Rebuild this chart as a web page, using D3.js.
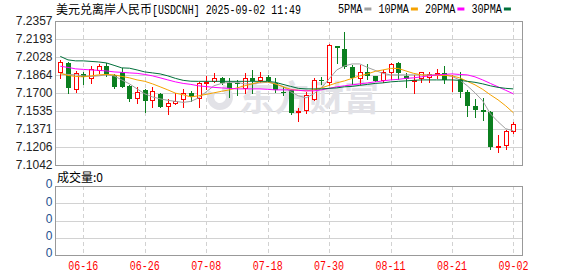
<!DOCTYPE html>
<html lang="zh">
<head>
<meta charset="UTF-8">
<title>USDCNH</title>
<script src="https://cdn.jsdelivr.net/npm/d3@7.8.5/dist/d3.min.js"></script>
<style>
    body { margin: 0; background: #fff; }
    svg text { font-family: 'Liberation Sans', Arial, sans-serif; }
</style>
</head>
<body>
<div id="chart"></div>
<script>
    // trading days shown (06-11 .. 09-02)
    const dates = [
        '06-11','06-12','06-13','06-16','06-17','06-18','06-19','06-20','06-23','06-24',
        '06-25','06-26','06-27','06-30','07-01','07-02','07-03','07-04','07-07','07-08',
        '07-09','07-10','07-11','07-14','07-15','07-16','07-17','07-18','07-21','07-22',
        '07-23','07-24','07-25','07-28','07-29','07-30','07-31','08-01','08-04','08-05',
        '08-06','08-07','08-08','08-11','08-12','08-13','08-14','08-15','08-18','08-19',
        '08-20','08-21','08-22','08-25','08-26','08-27','08-28','08-29','09-01','09-02'
    ];
    const openVals = [
        7.1895,7.1974,7.1735,7.1871,7.1840,7.1908,7.1950,7.1865,7.1890,7.1767,
        7.1653,7.1728,7.1634,7.1689,7.1580,7.1610,7.1643,7.1698,7.1653,7.1795,
        7.1813,7.1840,7.1789,7.1792,7.1744,7.1835,7.1817,7.1847,7.1789,7.1713,
        7.1724,7.1530,7.1541,7.1643,7.1821,7.1801,7.2129,7.2099,7.1940,7.1838,
        7.1890,7.1856,7.1815,7.1895,7.1970,7.1859,7.1810,7.1835,7.1849,7.1871,
        7.1880,7.1835,7.1828,7.1713,7.1582,7.1546,7.1525,7.1202,7.1221,7.1355
    ];
    const highVals = [
        7.2002,7.1986,7.1901,7.1895,7.1947,7.1968,7.1972,7.1871,7.1926,7.1774,
        7.1753,7.1735,7.1755,7.1704,7.1646,7.1698,7.1735,7.1719,7.1801,7.1856,
        7.1880,7.1844,7.1835,7.1819,7.1880,7.1910,7.1895,7.1865,7.1840,7.1758,
        7.1728,7.1561,7.1713,7.1835,7.1849,7.2147,7.2129,7.2252,7.1951,7.1956,
        7.1961,7.1856,7.1910,7.1977,7.1986,7.1880,7.1865,7.1895,7.1895,7.1920,
        7.1947,7.1865,7.1895,7.1728,7.1646,7.1653,7.1537,7.1318,7.1361,7.1434
    ];
    const lowVals = [
        7.1835,7.1704,7.1713,7.1786,7.1795,7.1880,7.1859,7.1749,7.1755,7.1625,
        7.1607,7.1530,7.1573,7.1571,7.1507,7.1601,7.1576,7.1622,7.1576,7.1737,
        7.1798,7.1780,7.1667,7.1683,7.1698,7.1698,7.1804,7.1798,7.1713,7.1683,
        7.1509,7.1448,7.1514,7.1637,7.1778,7.1769,7.1972,7.1926,7.1783,7.1778,
        7.1828,7.1806,7.1798,7.1826,7.1828,7.1758,7.1698,7.1798,7.1798,7.1835,
        7.1789,7.1722,7.1667,7.1494,7.1476,7.1455,7.1191,7.1160,7.1191,7.1334
    ];
    const closeVals = [
        7.1981,7.1744,7.1886,7.1844,7.1917,7.1944,7.1871,7.1758,7.1758,7.1649,
        7.1713,7.1628,7.1722,7.1576,7.1607,7.1622,7.1695,7.1660,7.1789,7.1799,
        7.1840,7.1789,7.1749,7.1778,7.1835,7.1810,7.1844,7.1810,7.1728,7.1698,
        7.1516,7.1539,7.1683,7.1819,7.1817,7.2134,7.2108,7.1935,7.1838,7.1890,
        7.1854,7.1813,7.1890,7.1965,7.1883,7.1828,7.1819,7.1890,7.1874,7.1880,
        7.1819,7.1840,7.1713,7.1585,7.1540,7.1530,7.1202,7.1212,7.1355,7.1416
    ];
    const ma5 = [
        7.1874,7.1869,7.1865,7.1856,7.1851,7.1856,7.1865,7.1856,7.1819,7.1783,
        7.1737,7.1692,7.1664,7.1646,7.1633,7.1623,7.1614,7.1623,7.1655,7.1710,
        7.1765,7.1787,7.1797,7.1797,7.1783,7.1783,7.1792,7.1797,7.1783,7.1760,
        7.1710,7.1674,7.1655,7.1692,7.1746,7.1828,7.1910,7.1947,7.1965,7.1965,
        7.1933,7.1906,7.1879,7.1865,7.1865,7.1865,7.1865,7.1865,7.1865,7.1865,
        7.1865,7.1851,7.1819,7.1765,7.1701,7.1628,7.1510,7.1437,7.1373,7.1355
    ];
    const ma10 = [
        7.1879,7.1860,7.1851,7.1847,7.1856,7.1865,7.1869,7.1865,7.1851,7.1838,
        7.1819,7.1806,7.1783,7.1756,7.1728,7.1698,7.1683,7.1664,7.1674,7.1687,
        7.1701,7.1715,7.1728,7.1746,7.1765,7.1783,7.1801,7.1801,7.1783,7.1756,
        7.1733,7.1724,7.1719,7.1728,7.1746,7.1769,7.1792,7.1810,7.1833,7.1856,
        7.1874,7.1897,7.1910,7.1924,7.1924,7.1901,7.1879,7.1865,7.1860,7.1860,
        7.1860,7.1856,7.1838,7.1806,7.1774,7.1733,7.1683,7.1637,7.1582,7.1519
    ];
    const ma20 = [
        7.1944,7.1933,7.1920,7.1915,7.1910,7.1906,7.1901,7.1892,7.1888,7.1883,
        7.1879,7.1869,7.1856,7.1838,7.1819,7.1801,7.1787,7.1778,7.1765,7.1758,
        7.1751,7.1746,7.1742,7.1737,7.1737,7.1737,7.1737,7.1733,7.1728,7.1728,
        7.1728,7.1724,7.1719,7.1719,7.1728,7.1742,7.1756,7.1765,7.1774,7.1783,
        7.1792,7.1801,7.1810,7.1819,7.1824,7.1833,7.1838,7.1847,7.1856,7.1865,
        7.1869,7.1874,7.1869,7.1865,7.1847,7.1819,7.1787,7.1756,7.1724,7.1692
    ];
    const ma30 = [
        7.2034,7.2002,7.1993,7.1993,7.1988,7.1983,7.1974,7.1952,7.1929,7.1926,
        7.1910,7.1892,7.1883,7.1874,7.1856,7.1833,7.1815,7.1807,7.1806,7.1806,
        7.1806,7.1806,7.1806,7.1806,7.1806,7.1806,7.1806,7.1806,7.1797,7.1778,
        7.1760,7.1742,7.1737,7.1737,7.1737,7.1742,7.1746,7.1756,7.1760,7.1769,
        7.1778,7.1787,7.1792,7.1801,7.1806,7.1810,7.1815,7.1819,7.1819,7.1819,
        7.1819,7.1819,7.1815,7.1806,7.1797,7.1783,7.1765,7.1751,7.1742,7.1737
    ];
    const priceTicks = ['7.2357','7.2193','7.2028','7.1864','7.1700','7.1535','7.1371','7.1206','7.1042'];
    const volTicks = ['0','0','0','0','0'];
    const dateTicks = ['06-16','06-26','07-08','07-18','07-30','08-11','08-21','09-02'];
    const maNames = ['5PMA','10PMA','20PMA','30PMA'];

    const width = 578, height = 276;
    const plot = {left: 55, right: 522, top: 21, bottom: 165};
    const vol = {top: 186, bottom: 255};
    const upColor = '#ff0000', downColor = '#0b7f1f';
    const maColors = ['#a0a0a0', '#f5a200', '#ff00ff', '#00703a'];
    const gridColor = '#d2d2d2', borderColor = '#999';

    const svg = d3.select('#chart').append('svg')
        .attr('width', width).attr('height', height);

    const x = d3.scalePoint().domain(dates).range([60.3, 513.4]);
    const y = d3.scaleLinear()
        .domain([+priceTicks[priceTicks.length - 1], +priceTicks[0]])
        .range([plot.bottom, plot.top]);
    const yVol = d3.scaleLinear().domain([0, volTicks.length - 1]).range([vol.bottom, vol.top]);

    //grid - horizontal
    const grid = svg.append('g').attr('shape-rendering', 'crispEdges');
    grid.selectAll('line.hp').data(priceTicks.slice(1, -1)).join('line')
        .attr('x1', plot.left).attr('x2', plot.right)
        .attr('y1', d => Math.round(y(+d)) + 0.5).attr('y2', d => Math.round(y(+d)) + 0.5)
        .attr('stroke', gridColor);
    grid.selectAll('line.hv').data(d3.range(1, volTicks.length - 1)).join('line')
        .attr('x1', plot.left).attr('x2', plot.right)
        .attr('y1', d => Math.round(yVol(d)) + 0.5).attr('y2', d => Math.round(yVol(d)) + 0.5)
        .attr('stroke', gridColor);
    //grid - vertical dashed, one set per panel
    [[plot.top, plot.bottom], [vol.top, vol.bottom]].forEach(([t, b]) => {
        grid.append('g').selectAll('line').data(dateTicks).join('line')
            .attr('x1', d => Math.round(x(d)) + 0.5).attr('x2', d => Math.round(x(d)) + 0.5)
            .attr('y1', t).attr('y2', b)
            .attr('stroke', gridColor).attr('stroke-dasharray', '4,3');
    });

    // watermark
    const wm = svg.append('g').attr('fill', '#e2e2e7');
    const logoArc = d3.arc().innerRadius(6).outerRadius(13).startAngle(0.6).endAngle(5.6);
    wm.append('path').attr('d', logoArc()).attr('transform', 'translate(220,97) rotate(-20)');
    wm.append('text').attr('x', 239).attr('y', 111)
        .style('font-family', "'Noto Sans CJK SC'").style('font-weight', 'bold').style('font-size', '35px')
        .text('东方财富');

    // borders
    [[plot.top, plot.bottom], [vol.top, vol.bottom]].forEach(([t, b]) => {
        svg.append('rect').attr('x', plot.left + 0.5).attr('y', t + 0.5)
            .attr('width', plot.right - plot.left).attr('height', b - t)
            .attr('fill', 'none').attr('stroke', borderColor).attr('shape-rendering', 'crispEdges');
    });

    // candles
    const candles = dates.map((d, i) => ({d, o: openVals[i], h: highVals[i], l: lowVals[i], c: closeVals[i]}));
    const cg = svg.append('g').attr('shape-rendering', 'crispEdges');
    const candle = cg.selectAll('g').data(candles).join('g');
    candle.append('line')
        .attr('x1', d => Math.round(x(d.d)) + 0.5).attr('x2', d => Math.round(x(d.d)) + 0.5)
        .attr('y1', d => Math.round(y(d.h))).attr('y2', d => Math.round(y(d.l)) + 1)
        .attr('stroke', d => d.c >= d.o ? upColor : downColor);
    candle.each(function (d) {
        const g = d3.select(this);
        const cx = Math.round(x(d.d));
        const top = Math.round(y(Math.max(d.o, d.c)));
        const bot = Math.round(y(Math.min(d.o, d.c)));
        if (d.c >= d.o) {
            g.append('rect').attr('x', cx - 1.5).attr('y', top + 0.5)
                .attr('width', 4).attr('height', Math.max(bot - top, 0))
                .attr('fill', '#fff').attr('stroke', upColor);
        } else {
            g.append('rect').attr('x', cx - 2).attr('y', top)
                .attr('width', 5).attr('height', Math.max(bot - top, 1))
                .attr('fill', downColor);
        }
    });

    // moving averages
    const maLine = d3.line().x((d, i) => x(dates[i])).y(d => y(d));
    [ma5, ma10, ma20, ma30].forEach((s, k) => {
        svg.append('path').attr('d', maLine(s))
            .attr('fill', 'none').attr('stroke', maColors[k]).attr('stroke-width', 1);
    });

    // y labels
    svg.append('g').selectAll('text').data(priceTicks).join('text')
        .attr('x', 52.5).attr('y', d => y(+d)).attr('dy', '0.36em')
        .attr('text-anchor', 'end').style('font-size', '12px').attr('fill', '#222')
        .text(d => d);
    svg.append('g').selectAll('text').data(volTicks).join('text')
        .attr('x', 52.5).attr('y', (d, i) => yVol(i) - 2).attr('dy', '0.36em')
        .attr('text-anchor', 'end').style('font-size', '12px').attr('fill', '#24508f')
        .text(d => d);

    // x labels
    svg.append('g').selectAll('text').data(dateTicks).join('text')
        .attr('x', d => x(d)).attr('y', 270).attr('text-anchor', 'middle')
        .attr('textLength', 30).attr('lengthAdjust', 'spacingAndGlyphs')
        .style('font-family', "'Liberation Mono', monospace").style('font-size', '12px')
        .attr('fill', upColor).text(d => d);

    // title
    svg.append('text').attr('x', 56).attr('y', 13.5)
        .style('font-family', "'Noto Sans CJK SC'").style('font-size', '12px')
        .attr('fill', '#000').text('美元兑离岸人民币');
    svg.append('text').attr('x', 152).attr('y', 13.5)
        .attr('textLength', 149).attr('lengthAdjust', 'spacingAndGlyphs')
        .style('font-family', "'Liberation Mono', monospace").style('font-size', '12px')
        .attr('fill', '#000').text('[USDCNH] 2025-09-02 11:49');

    // legend
    let lx = 338;
    maNames.forEach((name, k) => {
        const w = name.length * 6.1;
        svg.append('text').attr('x', lx).attr('y', 13)
            .attr('textLength', w).attr('lengthAdjust', 'spacingAndGlyphs')
            .style('font-family', "'Liberation Mono', monospace").style('font-size', '12px')
            .attr('fill', '#000').text(name);
        svg.append('rect').attr('x', lx + w + 2).attr('y', 7.5).attr('width', 7).attr('height', 3)
            .attr('fill', maColors[k]);
        lx += w + 2 + 7 + 7;
    });

    // volume title
    svg.append('text').attr('x', 57).attr('y', 182)
        .style('font-family', "'Noto Sans CJK SC'").style('font-size', '12px')
        .attr('fill', '#000').text('成交量:0');
</script>
</body>
</html>
